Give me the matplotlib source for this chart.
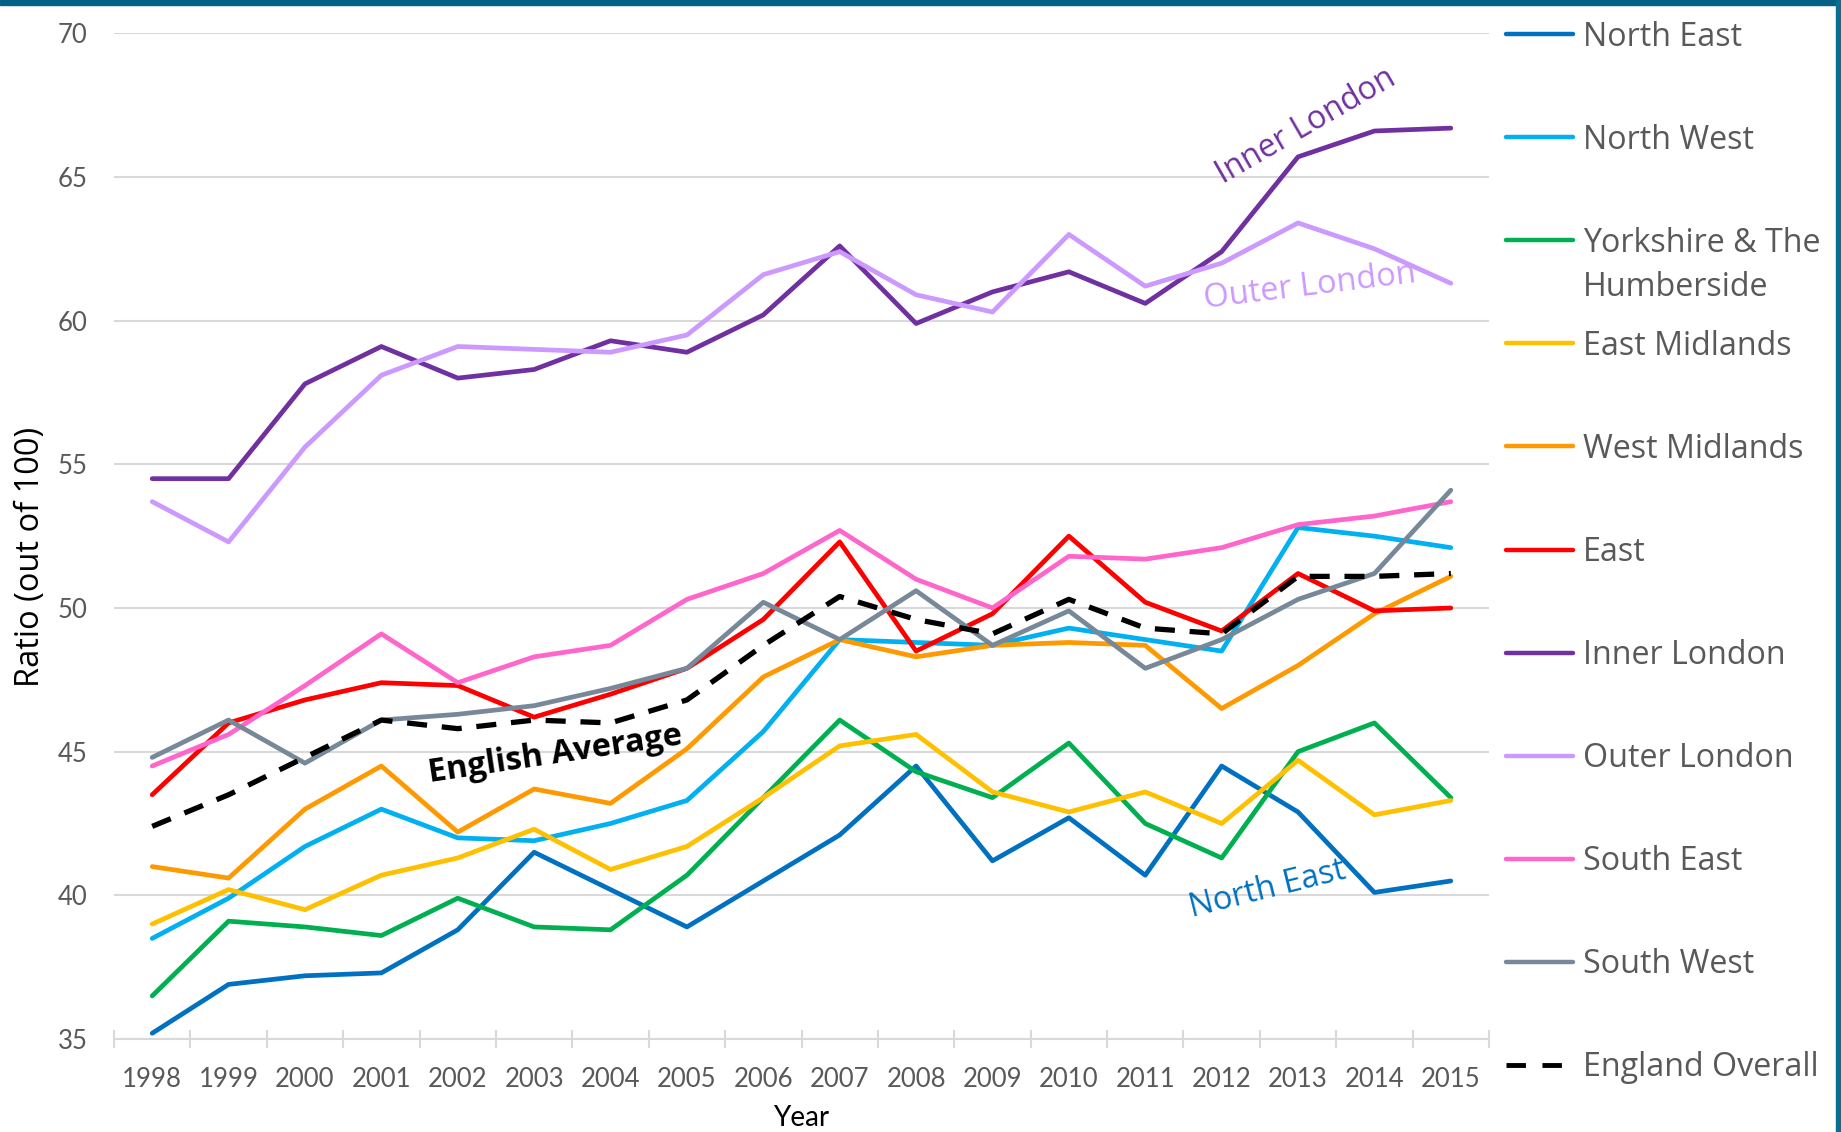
import numpy as np
import matplotlib.pyplot as plt
from matplotlib.lines import Line2D
from matplotlib.patches import Rectangle

plt.rcParams['font.family'] = ['Open Sans', 'DejaVu Sans']

# Data
years = list(range(1998, 2016))
labels = ['North East', 'North West', 'Yorkshire & The\nHumberside', 'East Midlands',
          'West Midlands', 'East', 'Inner London', 'Outer London', 'South East',
          'South West', 'England Overall']

north_east = [35.2, 36.9, 37.2, 37.3, 38.8, 41.5, 40.2, 38.9, 40.5, 42.1, 44.5, 41.2, 42.7, 40.7, 44.5, 42.9, 40.1, 40.5]
north_west = [38.5, 39.9, 41.7, 43.0, 42.0, 41.9, 42.5, 43.3, 45.7, 48.9, 48.8, 48.7, 49.3, 48.9, 48.5, 52.8, 52.5, 52.1]
yorkshire = [36.5, 39.1, 38.9, 38.6, 39.9, 38.9, 38.8, 40.7, 43.4, 46.1, 44.3, 43.4, 45.3, 42.5, 41.3, 45.0, 46.0, 43.4]
east_midlands = [39.0, 40.2, 39.5, 40.7, 41.3, 42.3, 40.9, 41.7, 43.4, 45.2, 45.6, 43.6, 42.9, 43.6, 42.5, 44.7, 42.8, 43.3]
west_midlands = [41.0, 40.6, 43.0, 44.5, 42.2, 43.7, 43.2, 45.1, 47.6, 48.9, 48.3, 48.7, 48.8, 48.7, 46.5, 48.0, 49.8, 51.1]
east = [43.5, 46.0, 46.8, 47.4, 47.3, 46.2, 47.0, 47.9, 49.6, 52.3, 48.5, 49.8, 52.5, 50.2, 49.2, 51.2, 49.9, 50.0]
inner_london = [54.5, 54.5, 57.8, 59.1, 58.0, 58.3, 59.3, 58.9, 60.2, 62.6, 59.9, 61.0, 61.7, 60.6, 62.4, 65.7, 66.6, 66.7]
outer_london = [53.7, 52.3, 55.6, 58.1, 59.1, 59.0, 58.9, 59.5, 61.6, 62.4, 60.9, 60.3, 63.0, 61.2, 62.0, 63.4, 62.5, 61.3]
south_east = [44.5, 45.6, 47.3, 49.1, 47.4, 48.3, 48.7, 50.3, 51.2, 52.7, 51.0, 50.0, 51.8, 51.7, 52.1, 52.9, 53.2, 53.7]
south_west = [44.8, 46.1, 44.6, 46.1, 46.3, 46.6, 47.2, 47.9, 50.2, 48.9, 50.6, 48.7, 49.9, 47.9, 48.9, 50.3, 51.2, 54.1]
england = [42.4, 43.5, 44.8, 46.1, 45.8, 46.1, 46.0, 46.8, 48.7, 50.4, 49.6, 49.1, 50.3, 49.3, 49.1, 51.1, 51.1, 51.2]

series = [north_east, north_west, yorkshire, east_midlands, west_midlands, east,
          inner_london, outer_london, south_east, south_west, england]
colors = ['#0070C0', '#00B0F0', '#00B050', '#FFC000', '#FF9900', '#FF0000',
          '#7030A0', '#CC99FF', '#FF66CC', '#778899', '#000000']

W, H = 1841, 1132
fig = plt.figure(figsize=(W / 100, H / 100), dpi=100)
ax = fig.add_axes([114 / W, 1 - 1039 / H, (1489 - 114) / W, (1039 - 33.3) / H])

x = np.arange(len(years))
for vals, col, lab in zip(series, colors, labels):
    if lab == 'England Overall':
        ax.plot(x, vals, color=col, lw=3.8, dashes=(3.8, 2.8), zorder=5)
    else:
        ax.plot(x, vals, color=col, lw=3.4, solid_capstyle='round', zorder=3)

ax.set_xlim(-0.5, len(years) - 0.5)
ax.set_ylim(35, 70)
ax.set_yticks(np.arange(35, 71, 5))
ax.yaxis.grid(True, color='#d9d9d9', lw=1.5)
ax.set_axisbelow(True)
for s in ['top', 'right', 'left']:
    ax.spines[s].set_visible(False)
ax.spines['bottom'].set_color('#d9d9d9')
ax.spines['bottom'].set_linewidth(1.5)

ax.set_xticks(x)
ax.set_xticklabels([str(y) for y in years], family='Lato', fontsize=18.5, color='#595959')
ax.set_xticks(np.arange(-0.5, len(years)), minor=True)
ax.tick_params(axis='x', which='major', length=0, pad=20)
ax.tick_params(axis='x', which='minor', length=13, width=1.5, direction='inout', color='#d9d9d9')
ax.tick_params(axis='y', length=0, pad=19)
for t in ax.get_yticklabels():
    t.set_family('Lato')
    t.set_fontsize(18.5)
    t.set_color('#595959')

fig.text(801 / W, 1 - 1126.5 / H, 'Year', family='Lato', fontsize=20, ha='center', va='baseline')
fig.text(31 / W, 1 - 557 / H, 'Ratio (out of 100)', fontsize=23.5, rotation=90, ha='center', va='center')

# Line labels on the chart
ax.text(15.1, 66.75, 'Inner London', color='#7030A0', fontsize=23, rotation=30,
        rotation_mode='anchor', ha='center', va='center')
ax.text(15.16, 61.2, 'Outer London', color='#CC99FF', fontsize=23.5, rotation=7,
        rotation_mode='anchor', ha='center', va='center')
ax.text(5.28, 44.9, 'English Average', color='black', fontsize=23.5, fontweight='bold',
        rotation=8.5, rotation_mode='anchor', ha='center', va='center')
ax.text(14.6, 40.2, 'North East', color='#0070C0', fontsize=23.4, rotation=14,
        rotation_mode='anchor', ha='center', va='center')

# Legend drawn by hand to keep the Excel spacing
for i, (lab, col) in enumerate(zip(labels, colors)):
    yp = 34 + 103.1 * i
    if lab == 'England Overall':
        fig.add_artist(Line2D([1506 / W, 1563 / W], [1 - yp / H] * 2, color=col, lw=3.5,
                              dashes=(4, 3.4), transform=fig.transFigure))
    else:
        fig.add_artist(Line2D([1506 / W, 1573 / W], [1 - yp / H] * 2, color=col, lw=3.2,
                              solid_capstyle='round', transform=fig.transFigure))
    for j, line in enumerate(lab.split('\n')):
        fig.text(1583 / W, 1 - (yp + 11.5 + 44.6 * j) / H, line, fontsize=23.2,
                 color='#595959', ha='left', va='baseline')

# frame bars
fig.add_artist(Rectangle((0, 1 - 5 / H), 1, 5 / H, color='#045f86', transform=fig.transFigure))
fig.add_artist(Rectangle((1836 / W, 0), 5 / W, 1, color='#0a6f8f', transform=fig.transFigure))

fig.savefig('out.png', dpi=100)
